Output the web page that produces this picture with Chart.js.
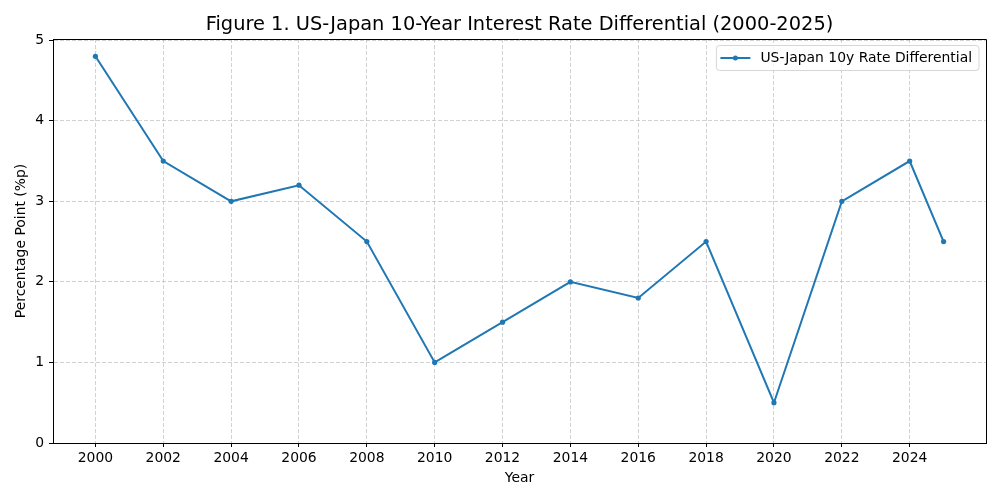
<!DOCTYPE html>
<html>
<head>
<meta charset="utf-8">
<script src="https://cdn.jsdelivr.net/npm/chart.js@4/dist/chart.umd.min.js"></script>
<style>
html,body{margin:0;padding:0;background:#fff;}
#wrap{width:1000px;height:500px;position:relative;}
</style>
</head>
<body>
<div id="wrap"><canvas id="c" width="1000" height="500"></canvas></div>
<script>
const years = [2000, 2002, 2004, 2006, 2008, 2010, 2012, 2014, 2016, 2018, 2020, 2022, 2024, 2025];
const differential = [4.8, 3.5, 3.0, 3.2, 2.5, 1.0, 1.5, 2.0, 1.8, 2.5, 0.5, 3.0, 3.5, 2.5];
const xTicks = [2000, 2002, 2004, 2006, 2008, 2010, 2012, 2014, 2016, 2018, 2020, 2022, 2024];
const yTicks = [0, 1, 2, 3, 4, 5];
const seriesLabel = 'US-Japan 10y Rate Differential';
const titleText = 'Figure 1. US-Japan 10-Year Interest Rate Differential (2000-2025)';

const FONT = 'DejaVu Sans';
const BLUE = '#1f77b4';
const FS = 13.9;

const framePlugin = {
  id: 'frame',
  afterDraw(chart) {
    const {ctx, chartArea: a} = chart;
    ctx.save();
    // top/right spines
    ctx.strokeStyle = '#000';
    ctx.lineWidth = 1;
    ctx.beginPath();
    ctx.moveTo(a.left, a.top + 0.5);
    ctx.lineTo(a.right + 0.5, a.top + 0.5);
    ctx.lineTo(a.right + 0.5, a.bottom);
    ctx.stroke();
    // title
    ctx.fillStyle = '#000';
    ctx.font = '19.4px "' + FONT + '"';
    ctx.textAlign = 'center';
    ctx.textBaseline = 'middle';
    ctx.fillText(titleText, (a.left + a.right) / 2, 24.5);
    // legend
    const label = chart.data.datasets[0].label;
    ctx.font = FS + 'px "' + FONT + '"';
    const tw = ctx.measureText(label).width;
    const bw = tw + 51, bh = 25;
    const bx = a.right - 7 - bw, by = a.top + 6.5;
    const r = 3;
    ctx.beginPath();
    ctx.moveTo(bx + r, by);
    ctx.lineTo(bx + bw - r, by);
    ctx.arcTo(bx + bw, by, bx + bw, by + r, r);
    ctx.lineTo(bx + bw, by + bh - r);
    ctx.arcTo(bx + bw, by + bh, bx + bw - r, by + bh, r);
    ctx.lineTo(bx + r, by + bh);
    ctx.arcTo(bx, by + bh, bx, by + bh - r, r);
    ctx.lineTo(bx, by + r);
    ctx.arcTo(bx, by, bx + r, by, r);
    ctx.closePath();
    ctx.fillStyle = 'rgba(255,255,255,0.8)';
    ctx.fill();
    ctx.strokeStyle = '#d6d6d6';
    ctx.lineWidth = 1;
    ctx.stroke();
    const ly = by + bh / 2;
    ctx.strokeStyle = BLUE;
    ctx.lineWidth = 2;
    ctx.beginPath();
    ctx.moveTo(bx + 4, ly);
    ctx.lineTo(bx + 34, ly);
    ctx.stroke();
    ctx.fillStyle = BLUE;
    ctx.beginPath();
    ctx.arc(bx + 19, ly, 2.5, 0, Math.PI * 2);
    ctx.fill();
    ctx.fillStyle = '#000';
    ctx.textAlign = 'left';
    ctx.fillText(label, bx + 44, ly + 0.5);
    ctx.restore();
  }
};

new Chart(document.getElementById('c'), {
  type: 'line',
  data: {
    datasets: [{
      label: seriesLabel,
      data: years.map((y, i) => ({x: y, y: differential[i]})),
      borderColor: BLUE,
      backgroundColor: BLUE,
      borderWidth: 2,
      pointRadius: 2.6,
      pointHoverRadius: 2.6,
      pointBorderWidth: 0,
      tension: 0,
      fill: false
    }]
  },
  options: {
    responsive: false,
    animation: false,
    devicePixelRatio: 1,
    layout: {padding: {left: 0, right: 14, top: 39, bottom: 0}},
    plugins: {legend: {display: false}, title: {display: false}, tooltip: {enabled: false}},
    scales: {
      x: {
        type: 'linear',
        min: 1998.75,
        max: 2026.25,
        afterBuildTicks(scale) { scale.ticks = xTicks.map(v => ({value: v})); },
        afterFit(scale) { scale.height = 57; },
        ticks: {
          color: '#000',
          font: {family: FONT, size: FS},
          padding: 3,
          maxRotation: 0,
          autoSkip: false,
          callback: v => String(v)
        },
        grid: {color: 'rgba(180,180,180,0.6)', lineWidth: 1, tickColor: '#000', tickLength: 4, tickBorderDash: []},
        border: {display: true, color: '#000', width: 1, dash: [4, 2]},
        title: {display: true, text: 'Year', color: '#000', font: {family: FONT, size: FS}, padding: {top: 0, bottom: 13}}
      },
      y: {
        type: 'linear',
        min: 0,
        max: 5.015,
        afterBuildTicks(scale) { scale.ticks = yTicks.map(v => ({value: v})); },
        afterFit(scale) { scale.width = 53; },
        ticks: {
          color: '#000',
          font: {family: FONT, size: FS},
          padding: 5,
          callback: v => String(v)
        },
        grid: {color: 'rgba(180,180,180,0.6)', lineWidth: 1, tickColor: '#000', tickLength: 4, tickBorderDash: []},
        border: {display: true, color: '#000', width: 1, dash: [4, 2]},
        title: {display: true, text: 'Percentage Point (%p)', color: '#000', font: {family: FONT, size: FS}, padding: {top: 13, bottom: 0}}
      }
    }
  },
  plugins: [framePlugin]
});
</script>
</body>
</html>
